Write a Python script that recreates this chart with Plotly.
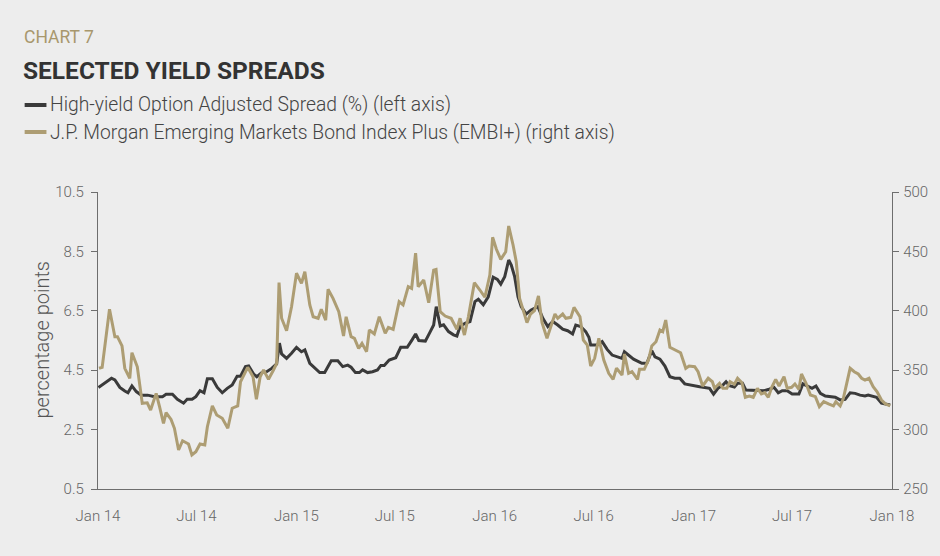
import plotly.graph_objects as go
import pandas as pd

# ---------------- data ----------------
# decimal years
hy_t = [2014.002, 2014.068, 2014.085, 2014.110, 2014.135, 2014.151, 2014.171, 2014.193, 2014.218, 2014.250,
        2014.285, 2014.325, 2014.343, 2014.375, 2014.400, 2014.431, 2014.449, 2014.474, 2014.493, 2014.514,
        2014.534, 2014.551, 2014.576, 2014.601, 2014.626, 2014.651, 2014.676, 2014.701, 2014.718, 2014.743,
        2014.759, 2014.784, 2014.800, 2014.825, 2014.850, 2014.875, 2014.900, 2014.914, 2014.925, 2014.950,
        2014.975, 2015.000, 2015.025, 2015.042, 2015.067, 2015.092, 2015.117, 2015.142, 2015.175, 2015.208,
        2015.233, 2015.258, 2015.275, 2015.297, 2015.317, 2015.333, 2015.358, 2015.383, 2015.408, 2015.425,
        2015.442, 2015.467, 2015.500, 2015.525, 2015.558, 2015.583, 2015.600, 2015.616, 2015.649, 2015.674,
        2015.691, 2015.704, 2015.724, 2015.741, 2015.766, 2015.791, 2015.808, 2015.824, 2015.849, 2015.874,
        2015.899, 2015.916, 2015.941, 2015.966, 2015.991, 2016.012, 2016.029, 2016.049, 2016.069, 2016.082,
        2016.099, 2016.116, 2016.132, 2016.157, 2016.182, 2016.216, 2016.241, 2016.266, 2016.291, 2016.316,
        2016.341, 2016.366, 2016.391, 2016.407, 2016.432, 2016.457, 2016.473, 2016.482, 2016.515, 2016.540,
        2016.565, 2016.590, 2016.615, 2016.640, 2016.652, 2016.673, 2016.698, 2016.723, 2016.740, 2016.765,
        2016.790, 2016.806, 2016.831, 2016.856, 2016.881, 2016.906, 2016.931, 2016.956, 2016.981, 2017.006,
        2017.031, 2017.056, 2017.081, 2017.101, 2017.123, 2017.148, 2017.164, 2017.181, 2017.206, 2017.222,
        2017.247, 2017.264, 2017.289, 2017.331, 2017.356, 2017.381, 2017.406, 2017.427, 2017.447, 2017.472,
        2017.497, 2017.531, 2017.551, 2017.572, 2017.597, 2017.617, 2017.639, 2017.664, 2017.689, 2017.714,
        2017.739, 2017.764, 2017.789, 2017.814, 2017.839, 2017.864, 2017.880, 2017.905, 2017.922, 2017.947,
        2017.972, 2017.991]
hy_v = [3.92, 4.23, 4.17, 3.92, 3.80, 3.74, 3.97, 3.78, 3.66, 3.66,
        3.61, 3.61, 3.69, 3.69, 3.52, 3.39, 3.52, 3.52, 3.61, 3.81,
        3.74, 4.21, 4.21, 3.92, 3.74, 3.89, 4.00, 4.30, 4.30, 4.62,
        4.64, 4.37, 4.28, 4.42, 4.45, 4.56, 4.71, 5.41, 5.05, 4.90,
        5.07, 5.27, 5.12, 5.18, 4.73, 4.56, 4.42, 4.42, 4.82, 4.82,
        4.62, 4.67, 4.60, 4.42, 4.42, 4.51, 4.42, 4.45, 4.51, 4.66,
        4.66, 4.84, 4.92, 5.27, 5.27, 5.53, 5.72, 5.50, 5.48, 5.80,
        6.02, 6.64, 5.99, 6.03, 5.80, 5.69, 5.65, 5.97, 6.08, 6.14,
        6.81, 6.89, 6.70, 6.97, 7.63, 7.56, 7.40, 7.65, 8.21, 8.04,
        7.65, 6.97, 6.64, 6.39, 6.53, 6.64, 6.25, 5.97, 6.14, 6.02,
        5.88, 5.83, 5.72, 6.02, 5.97, 5.80, 5.61, 5.35, 5.35, 5.46,
        5.20, 5.01, 4.95, 4.90, 5.12, 5.01, 4.87, 4.79, 4.73, 4.73,
        5.16, 4.95, 4.87, 4.64, 4.28, 4.23, 4.23, 4.04, 4.00, 3.97,
        3.94, 3.92, 3.89, 3.69, 3.89, 4.00, 4.11, 3.98, 3.93, 4.06,
        4.06, 3.83, 3.83, 3.83, 3.81, 3.86, 3.92, 3.74, 3.81, 3.81,
        3.70, 3.70, 4.04, 3.97, 3.89, 3.97, 3.72, 3.63, 3.61, 3.59,
        3.50, 3.52, 3.74, 3.72, 3.66, 3.63, 3.66, 3.61, 3.59, 3.39,
        3.36, 3.33]

embi_t = [2014.005, 2014.021, 2014.058, 2014.085, 2014.098, 2014.121, 2014.135, 2014.160, 2014.171, 2014.198,
          2014.223, 2014.248, 2014.265, 2014.293, 2014.310, 2014.330, 2014.343, 2014.368, 2014.385, 2014.406,
          2014.426, 2014.456, 2014.473, 2014.493, 2014.514, 2014.538, 2014.551, 2014.576, 2014.598, 2014.626,
          2014.654, 2014.676, 2014.704, 2014.718, 2014.754, 2014.781, 2014.798, 2014.817, 2014.834, 2014.859,
          2014.884, 2014.900, 2014.912, 2014.925, 2014.950, 2014.975, 2015.000, 2015.025, 2015.042, 2015.067,
          2015.084, 2015.109, 2015.125, 2015.147, 2015.159, 2015.184, 2015.213, 2015.237, 2015.250, 2015.275,
          2015.292, 2015.313, 2015.330, 2015.353, 2015.367, 2015.392, 2015.417, 2015.447, 2015.463, 2015.487,
          2015.517, 2015.537, 2015.563, 2015.580, 2015.600, 2015.613, 2015.641, 2015.666, 2015.691, 2015.703,
          2015.724, 2015.749, 2015.779, 2015.808, 2015.824, 2015.846, 2015.866, 2015.896, 2015.924, 2015.949,
          2015.974, 2015.988, 2016.007, 2016.029, 2016.054, 2016.069, 2016.091, 2016.107, 2016.124, 2016.141,
          2016.161, 2016.179, 2016.199, 2016.219, 2016.237, 2016.262, 2016.282, 2016.302, 2016.316, 2016.341,
          2016.357, 2016.382, 2016.398, 2016.428, 2016.445, 2016.465, 2016.482, 2016.502, 2016.523, 2016.548,
          2016.573, 2016.595, 2016.612, 2016.628, 2016.640, 2016.652, 2016.673, 2016.690, 2016.702, 2016.718,
          2016.728, 2016.752, 2016.773, 2016.790, 2016.811, 2016.831, 2016.845, 2016.860, 2016.881, 2016.911,
          2016.935, 2016.961, 2016.978, 2017.006, 2017.023, 2017.046, 2017.074, 2017.095, 2017.106, 2017.131,
          2017.148, 2017.168, 2017.184, 2017.206, 2017.222, 2017.244, 2017.261, 2017.281, 2017.301, 2017.322,
          2017.342, 2017.359, 2017.377, 2017.394, 2017.414, 2017.431, 2017.456, 2017.472, 2017.494, 2017.511,
          2017.531, 2017.544, 2017.567, 2017.589, 2017.614, 2017.634, 2017.656, 2017.680, 2017.705, 2017.717,
          2017.739, 2017.755, 2017.789, 2017.810, 2017.830, 2017.847, 2017.864, 2017.884, 2017.905, 2017.925,
          2017.947, 2017.967, 2017.991]
embi_v = [351.6, 352.4, 401.3, 378.2, 378.2, 370.4, 351.6, 343.2, 364.7, 352.9,
          322.1, 322.6, 316.5, 330.5, 319.3, 305.3, 314.2, 308.6, 301.1, 282.8,
          290.6, 287.9, 278.6, 281.4, 287.9, 287.0, 302.4, 319.9, 312.3, 309.5,
          301.1, 318.0, 319.9, 340.3, 352.4, 344.5, 325.5, 344.5, 350.2, 342.3,
          350.2, 355.8, 423.7, 393.7, 383.2, 403.4, 431.6, 423.1, 432.9, 404.9,
          395.0, 393.7, 401.2, 392.2, 418.1, 410.5, 399.2, 378.8, 395.0, 378.2,
          376.8, 368.4, 372.6, 365.6, 383.8, 380.5, 395.0, 381.1, 386.1, 384.4,
          407.7, 404.9, 420.3, 418.9, 448.6, 420.3, 425.9, 406.8, 434.3, 434.9,
          399.2, 395.6, 393.7, 384.4, 393.7, 379.6, 395.0, 423.7, 417.5, 411.4,
          430.1, 461.9, 451.8, 443.3, 449.7, 471.4, 455.4, 441.3, 410.5, 400.1,
          390.0, 397.3, 400.1, 412.5, 390.0, 376.8, 386.6, 397.3, 393.7, 397.3,
          393.7, 394.5, 402.9, 395.0, 375.4, 371.2, 353.5, 360.0, 376.8, 358.6,
          347.4, 342.3, 351.6, 348.7, 345.9, 363.6, 347.4, 348.7, 345.9, 342.3,
          350.7, 350.7, 358.6, 370.4, 374.0, 383.8, 382.4, 392.2, 369.3, 367.0,
          364.7, 351.6, 353.5, 352.9, 348.7, 336.7, 343.2, 340.3, 334.8, 339.0,
          334.8, 334.8, 340.3, 338.2, 343.2, 339.5, 327.2, 328.3, 327.2, 334.8,
          330.0, 331.1, 327.2, 335.6, 342.3, 336.7, 344.5, 334.8, 335.6, 338.4,
          333.9, 346.8, 338.9, 329.1, 327.7, 319.3, 323.5, 321.6, 319.9, 323.5,
          319.9, 326.3, 351.6, 348.7, 346.8, 343.2, 341.7, 343.2, 336.1, 331.9,
          324.9, 321.6, 319.9]

x_tick_dates = ["2014-01-01", "2014-07-01", "2015-01-01", "2015-07-01", "2016-01-01",
                "2016-07-01", "2017-01-01", "2017-07-01", "2018-01-01"]
x_tick_labels = ["Jan 14", "Jul 14", "Jan 15", "Jul 15", "Jan 16",
                 "Jul 16", "Jan 17", "Jul 17", "Jan 18"]
left_ticks = [0.5, 2.5, 4.5, 6.5, 8.5, 10.5]
right_ticks = [250, 300, 350, 400, 450, 500]

hy_name = "High-yield Option Adjusted Spread (%) (left axis)"
embi_name = "J.P. Morgan Emerging Markets Bond Index Plus (EMBI+) (right axis)"


def to_dates(ts):
    base = pd.Timestamp("2014-01-01")
    return [base + pd.Timedelta(days=(t - 2014) * 365.25) for t in ts]


# ---------------- styling ----------------
BG = "#ededed"
DARK = "#3a3a3a"
GOLD = "#ad9d73"
AXIS = "#6e6e6e"
TICKTXT = "#666666"
FONT = "Roboto"

W, H = 940, 556
L, R, T, B = 98, 41, 192, 67
PW, PH = W - L - R, H - T - B


def px(x):
    return (x - L) / PW


def py(y):
    return (H - B - y) / PH


fig = go.Figure()
fig.add_trace(go.Scatter(x=to_dates(embi_t), y=embi_v, mode="lines", name=embi_name,
                         line=dict(color=GOLD, width=3), yaxis="y2", showlegend=False))
fig.add_trace(go.Scatter(x=to_dates(hy_t), y=hy_v, mode="lines", name=hy_name,
                         line=dict(color=DARK, width=3), yaxis="y", showlegend=False))

axis_common = dict(showgrid=False, zeroline=False, showline=True, linecolor=AXIS, linewidth=1.3,
                   tickfont=dict(family=FONT, size=15, color=TICKTXT, weight=300))

fig.update_layout(
    width=W, height=H,
    margin=dict(l=L, r=R, t=T, b=B, pad=0),
    paper_bgcolor=BG, plot_bgcolor=BG,
    font=dict(family=FONT),
    xaxis=dict(type="date", range=["2014-01-01", "2018-01-01"],
               tickvals=x_tick_dates, ticktext=x_tick_labels, ticks="",
               ticklabelstandoff=13, **axis_common),
    yaxis=dict(range=[0.5, 10.5], tickvals=left_ticks, ticktext=[f"{v:.1f}" for v in left_ticks],
               ticks="outside", ticklen=6, tickcolor=AXIS, tickwidth=1.3, ticklabelstandoff=4,
               **axis_common),
    yaxis2=dict(range=[250, 500], tickvals=right_ticks, overlaying="y", side="right",
                ticks="outside", ticklen=6, tickcolor=AXIS, tickwidth=1.3, ticklabelstandoff=1,
                **axis_common),
    showlegend=False,
)

annotations = [
    dict(text="CHART 7", x=px(21), y=py(37), font=dict(family=FONT, size=17.5, color="#a8976c")),
    dict(text="<b>SELECTED YIELD SPREADS</b>", x=px(20), y=py(70),
         font=dict(family=FONT, size=24.5, color="#333333")),
    dict(text=hy_name, x=px(48), y=py(105), font=dict(family=FONT, size=19.3, color="#444444", weight=300)),
    dict(text=embi_name, x=px(48), y=py(132), font=dict(family=FONT, size=19.3, color="#444444", weight=300)),
    dict(text="percentage points", x=px(42), y=py(340), textangle=-90, xanchor="center",
         font=dict(family=FONT, size=20, color="#555555", weight=300)),
]
for a in annotations:
    a.setdefault("xanchor", "left")
    a.update(xref="paper", yref="paper", yanchor="middle", showarrow=False)
fig.update_layout(annotations=annotations)

fig.add_shape(type="line", xref="paper", yref="paper", x0=px(24), x1=px(46), y0=py(105), y1=py(105),
              line=dict(color=DARK, width=4))
fig.add_shape(type="line", xref="paper", yref="paper", x0=px(24), x1=px(46), y0=py(132), y1=py(132),
              line=dict(color=GOLD, width=4))

fig.write_html("out.html")
